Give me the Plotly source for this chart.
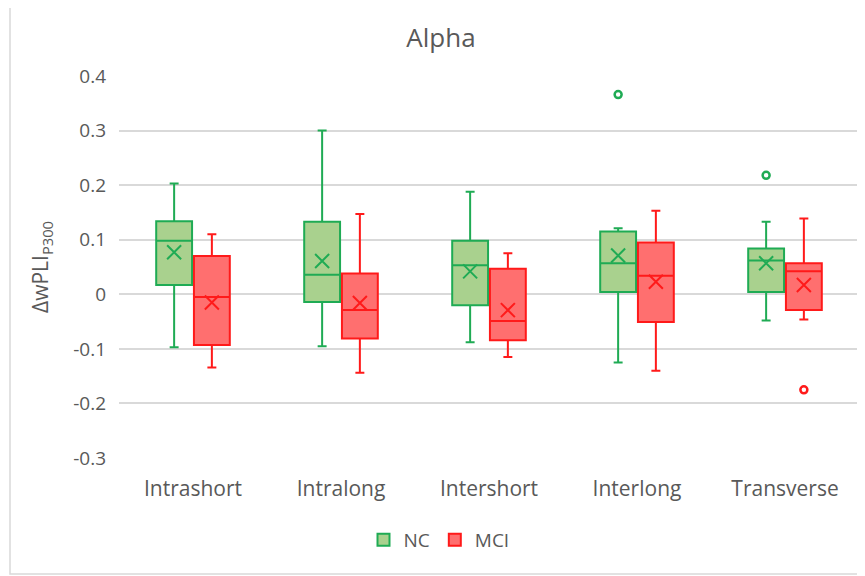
import plotly.graph_objects as go

categories = ["Intrashort", "Intralong", "Intershort", "Interlong", "Transverse"]

nc_lower = [-0.097, -0.095, -0.088, -0.125, -0.048]
nc_q1 = [0.017, -0.014, -0.020, 0.004, 0.004]
nc_median = [0.098, 0.036, 0.053, 0.057, 0.062]
nc_q3 = [0.134, 0.133, 0.098, 0.115, 0.084]
nc_upper = [0.203, 0.300, 0.188, 0.121, 0.133]
nc_mean = [0.077, 0.061, 0.042, 0.071, 0.057]
nc_out_x = ["Interlong", "Transverse"]
nc_out_y = [0.366, 0.218]

mci_lower = [-0.134, -0.144, -0.115, -0.140, -0.046]
mci_q1 = [-0.093, -0.081, -0.084, -0.051, -0.029]
mci_median = [-0.005, -0.029, -0.049, 0.034, 0.042]
mci_q3 = [0.070, 0.038, 0.047, 0.095, 0.057]
mci_upper = [0.110, 0.147, 0.075, 0.153, 0.139]
mci_mean = [-0.015, -0.016, -0.029, 0.023, 0.017]
mci_out_x = ["Transverse"]
mci_out_y = [-0.175]

y_ticks = [0.4, 0.3, 0.2, 0.1, 0, -0.1, -0.2, -0.3]
y_ticktext = ["0.4", "0.3", "0.2", "0.1", "0", "-0.1", "-0.2", "-0.3"]

NC_LINE = "#1fab54"
NC_FILL = "#a9d18e"
MCI_LINE = "#ff1a1a"
MCI_FILL = "#ff6f6f"
TXT = "#595959"
FONT = "Open Sans"

W, H = 857, 568
ML, MR, MT, MB = 111, 6, 68, 118
PW, PH = W - ML - MR, H - MT - MB

fig = go.Figure()

for name, lo, q1, med, q3, up, line, fill in [
    ("NC", nc_lower, nc_q1, nc_median, nc_q3, nc_upper, NC_LINE, NC_FILL),
    ("MCI", mci_lower, mci_q1, mci_median, mci_q3, mci_upper, MCI_LINE, MCI_FILL),
]:
    fig.add_trace(go.Box(
        name=name, x=categories, q1=q1, median=med, q3=q3,
        lowerfence=lo, upperfence=up, offsetgroup=name,
        line=dict(color=line, width=2), fillcolor=fill,
        whiskerwidth=0.25, boxpoints=False,
    ))

for name, mx, my, ox, oy, line in [
    ("NC", categories, nc_mean, nc_out_x, nc_out_y, NC_LINE),
    ("MCI", categories, mci_mean, mci_out_x, mci_out_y, MCI_LINE),
]:
    fig.add_trace(go.Scatter(
        x=mx, y=my, mode="markers", offsetgroup=name, showlegend=False,
        marker=dict(symbol="x-thin-open", size=14, color=line,
                    line=dict(color=line, width=2)),
        hoverinfo="skip",
    ))
    fig.add_trace(go.Scatter(
        x=ox, y=oy, mode="markers", offsetgroup=name, showlegend=False,
        marker=dict(symbol="circle-open", size=7, color=line,
                    line=dict(color=line, width=2.5)),
        hoverinfo="skip",
    ))

fig.update_layout(
    width=W, height=H,
    margin=dict(l=ML, r=MR, t=MT, b=MB),
    paper_bgcolor="white", plot_bgcolor="white",
    boxmode="group", boxgap=0.49, boxgroupgap=0.05,
    scattermode="group", scattergap=0.49,
    font=dict(family=FONT, size=19, color=TXT),
    title=dict(text="Alpha", x=433 / W, xanchor="center", y=1 - 30 / H, yanchor="middle",
               font=dict(family=FONT, size=26, color=TXT)),
    showlegend=True,
    legend=dict(orientation="h", x=(431 - ML) / PW, xanchor="center",
                y=(MT + PH - 532) / PH, yanchor="middle",
                font=dict(family=FONT, size=19, color=TXT), itemwidth=30,
                traceorder="normal"),
    xaxis=dict(type="category", categoryorder="array", categoryarray=categories,
               showgrid=False, showline=False, ticks="", ticklabelstandoff=16,
               tickfont=dict(family=FONT, size=21, color=TXT)),
    yaxis=dict(range=[-0.3, 0.4], tickvals=y_ticks, ticktext=y_ticktext,
               showgrid=True, gridcolor="#d9d9d9", gridwidth=1.5,
               zeroline=False, showline=False, ticks="", ticklabelstandoff=12,
               tickfont=dict(family=FONT, size=19, color=TXT),
               title=dict(text="ΔwPLI<sub>P300</sub>", standoff=18,
                          font=dict(family=FONT, size=21, color=TXT))),
    shapes=[dict(type="rect", xref="paper", yref="paper",
                 x0=(2 - ML) / PW, x1=(W + 20 - ML) / PW,
                 y0=(MT + PH - 566) / PH, y1=(MT + PH + 3) / PH,
                 line=dict(color="#d9d9d9", width=1.5), layer="below")],
)

fig.write_html("out.html")
